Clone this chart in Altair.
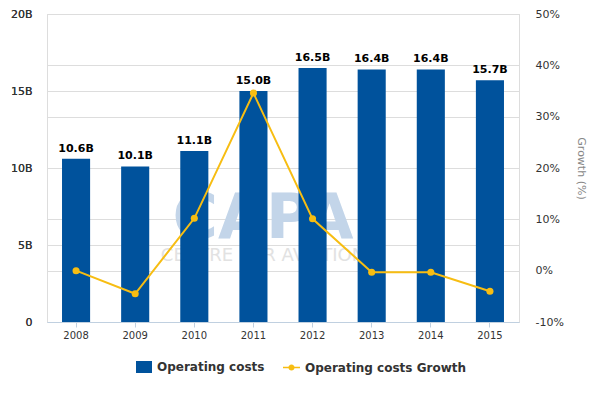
import altair as alt
import pandas as pd

years = ["2008", "2009", "2010", "2011", "2012", "2013", "2014", "2015"]
costs = [10.6, 10.1, 11.1, 15.0, 16.5, 16.4, 16.4, 15.7]
cost_labels = ["10.6B", "10.1B", "11.1B", "15.0B", "16.5B", "16.4B", "16.4B", "15.7B"]
growth = [0.0, -4.5, 10.2, 34.6, 10.1, -0.3, -0.3, -4.0]

BLUE = "#00529c"
YELLOW = "#f7bd12"
FONT = "DejaVu Sans"

df = pd.DataFrame({"year": years, "cost": costs, "label": cost_labels, "growth": growth,
                   "s1": "Operating costs", "s2": "Operating costs Growth"})

x = alt.X("year:O", title=None,
          scale=alt.Scale(paddingInner=0.525, paddingOuter=0.254),
          axis=alt.Axis(labelAngle=0, labelFontSize=10, labelColor="#333", labelFont=FONT,
                        domainColor="#c0d0e0", tickColor="#c0d0e0", tickSize=5,
                        labelPadding=3, grid=False))

ycost = alt.Y("cost:Q", title=None,
              scale=alt.Scale(domain=[0, 20], nice=False),
              axis=alt.Axis(orient="left", values=[0, 5, 10, 15, 20],
                            labelExpr="datum.value == 0 ? '0' : datum.value + 'B'",
                            labelFontSize=11, labelColor="#333", labelFont=FONT,
                            labelPadding=15, ticks=False, domain=False,
                            grid=True, gridColor="#dddddd"))

wm = pd.DataFrame({"a": [1]})
watermark1 = alt.Chart(wm).mark_text(text="CAPA", font=FONT, fontSize=62, fontWeight="bold",
                                     color="#c3d5e9", align="center", baseline="middle").encode(
    x=alt.value(216), y=alt.value(205))
watermark2 = alt.Chart(wm).mark_text(text="CENTRE FOR AVIATION", font=FONT, fontSize=18,
                                     color="#e2e2e2", align="center", baseline="middle").encode(
    x=alt.value(216), y=alt.value(242))

bars = alt.Chart(df).mark_bar().encode(
    x=x, y=ycost,
    color=alt.Color("s1:N", scale=alt.Scale(range=[BLUE]),
                    legend=alt.Legend(title=None, orient="none", legendX=89, legendY=345,
                                      symbolType="M-1,-0.75H1V0.75H-1Z", symbolSize=256,
                                      symbolStrokeWidth=0, labelFont=FONT, labelFontSize=12,
                                      labelFontWeight="bold", labelColor="#333", labelOffset=5,
                                      labelLimit=300, padding=0)))

texts = alt.Chart(df).mark_text(font=FONT, fontSize=11, fontWeight="bold", color="#000",
                                baseline="bottom", dy=-5).encode(
    x=x, y=ycost, text="label:N")

ygrowth = alt.Y("growth:Q", title="Growth (%)",
                scale=alt.Scale(domain=[-10, 50], nice=False),
                axis=alt.Axis(orient="right", values=[-10, 0, 10, 20, 30, 40, 50],
                              labelExpr="datum.value + '%'",
                              labelFontSize=11, labelColor="#333", labelFont=FONT,
                              labelPadding=16, ticks=False, domain=False,
                              grid=True, gridColor="#dddddd",
                              titleFont=FONT, titleFontSize=11, titleFontWeight="normal",
                              titleColor="#888", titlePadding=12))

line = alt.Chart(df).mark_line(color=YELLOW, strokeWidth=2).encode(x=x, y=ygrowth)
points = alt.Chart(df).mark_point(filled=True, size=50, opacity=1).encode(
    x=x, y=ygrowth,
    color=alt.Color("s2:N", scale=alt.Scale(range=[YELLOW]),
                    legend=alt.Legend(title=None, orient="none", legendX=236, legendY=345,
                                      symbolType="M-1,-0.09H1V0.09H-1Z M0.36,0A0.36,0.36 0 1,1 -0.36,0A0.36,0.36 0 1,1 0.36,0Z",
                                      symbolSize=289, symbolStrokeWidth=0,
                                      labelFont=FONT, labelFontSize=12, labelFontWeight="bold",
                                      labelColor="#333", labelOffset=5, labelLimit=300,
                                      padding=0)))
growth_layer = alt.layer(line, points)

chart = alt.layer(watermark1, watermark2, bars, texts, growth_layer).resolve_scale(
    y="independent", color="independent"
).properties(
    width=472, height=308,
    autosize=alt.AutoSizeParams(type="none"),
    padding={"left": 39, "top": 6, "right": 73, "bottom": 70},
).configure_view(stroke=None).configure(background="white")

chart.save("out.html", embed_options={"renderer": "svg", "actions": False})
